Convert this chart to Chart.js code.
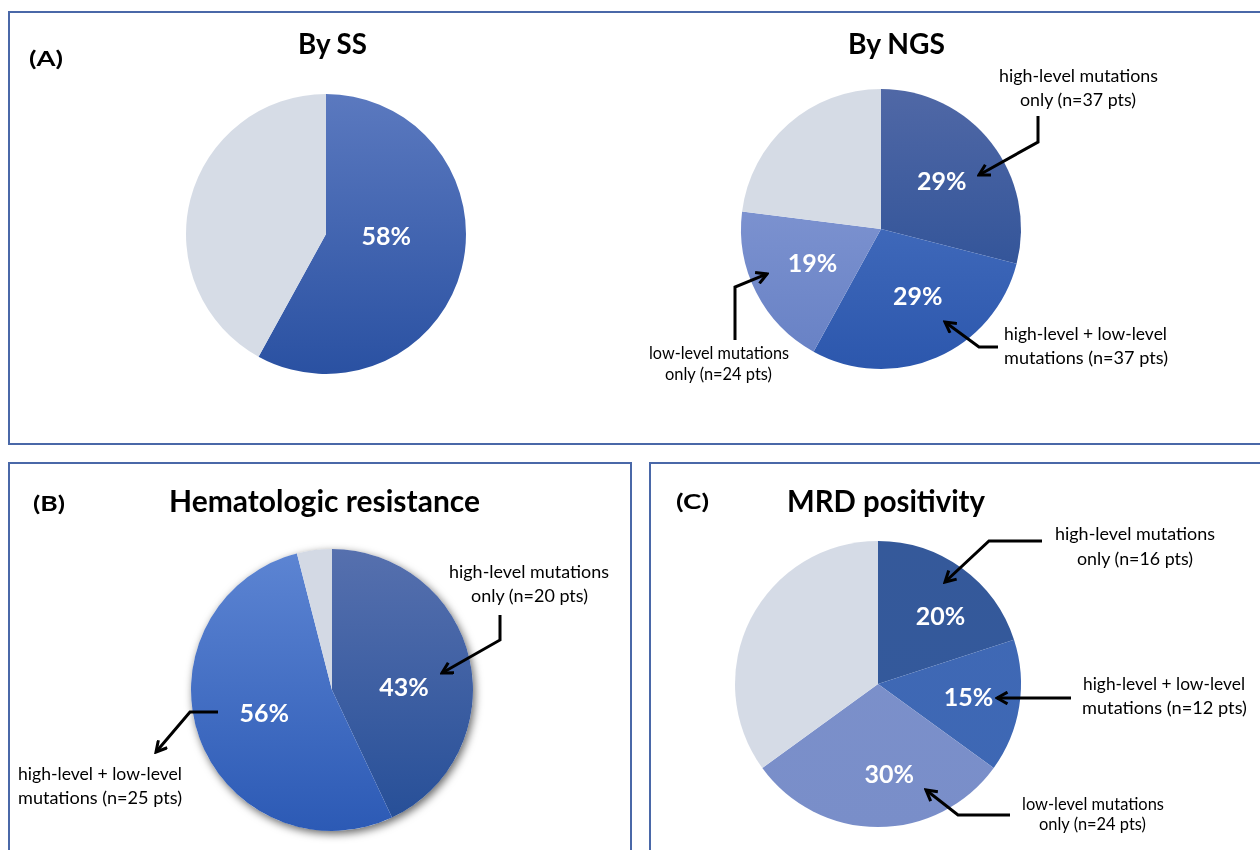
<!DOCTYPE html>
<html>
<head>
<meta charset="utf-8">
<script src="https://cdn.jsdelivr.net/npm/chart.js@4.4.1/dist/chart.umd.min.js"></script>
<style>
  body { margin: 0; width: 1260px; height: 850px; overflow: hidden; position: relative; background: #fff; font-family: Lato, sans-serif; }
  .panel { position: absolute; border: 2px solid #4a68a8; box-sizing: border-box; }
  .pie { position: absolute; width: 320px; height: 320px; }
  svg { position: absolute; left: 0; top: 0; }
  svg text { font-family: Lato, sans-serif; fill: #000; }
</style>
</head>
<body>
<div class="panel" style="left:8px;top:11px;width:1270px;height:434px"></div>
<div class="panel" style="left:8px;top:462px;width:624px;height:400px"></div>
<div class="panel" style="left:649px;top:462px;width:630px;height:400px"></div>

<div class="pie" style="left:166px;top:74px"><canvas id="ssChart" width="320" height="320"></canvas></div>
<div class="pie" style="left:721px;top:69px"><canvas id="ngsChart" width="320" height="320"></canvas></div>
<div class="pie" style="left:172px;top:530px"><canvas id="hemChart" width="320" height="320"></canvas></div>
<div class="pie" style="left:718px;top:524px"><canvas id="mrdChart" width="320" height="320"></canvas></div>

<svg width="1260" height="850">
  <defs>
    <marker id="head" viewBox="0 0 12 12" refX="10" refY="6" markerWidth="14" markerHeight="14" markerUnits="userSpaceOnUse" orient="auto">
      <path d="M1,1 L10,6 L1,11" fill="none" stroke="#000" stroke-width="2.6"/>
    </marker>
  </defs>
  <g font-weight="bold" dominant-baseline="central">
    <text x="29" y="57" font-size="21" textLength="34" lengthAdjust="spacingAndGlyphs">(A)</text>
    <text x="298" y="42" font-size="29" textLength="69" lengthAdjust="spacingAndGlyphs">By SS</text>
    <text x="848" y="42" font-size="29" textLength="97" lengthAdjust="spacingAndGlyphs">By NGS</text>
    <text x="33" y="502" font-size="21" textLength="32" lengthAdjust="spacingAndGlyphs">(B)</text>
    <text x="169" y="500" font-size="30" textLength="311" lengthAdjust="spacingAndGlyphs">Hematologic resistance</text>
    <text x="676" y="500" font-size="21" textLength="33" lengthAdjust="spacingAndGlyphs">(C)</text>
    <text x="787" y="500" font-size="30" textLength="198" lengthAdjust="spacingAndGlyphs">MRD positivity</text>
  </g>
  <g font-size="17" dominant-baseline="central">
    <text x="999" y="75" textLength="159" lengthAdjust="spacingAndGlyphs">high-level mutations</text>
    <text x="1020" y="99" textLength="116" lengthAdjust="spacingAndGlyphs">only (n=37 pts)</text>
    <text x="1004" y="333" textLength="163" lengthAdjust="spacingAndGlyphs">high-level + low-level</text>
    <text x="1004" y="357" textLength="164" lengthAdjust="spacingAndGlyphs">mutations (n=37 pts)</text>
    <text x="649" y="352" textLength="140" lengthAdjust="spacingAndGlyphs">low-level mutations</text>
    <text x="665" y="373" textLength="107" lengthAdjust="spacingAndGlyphs">only (n=24 pts)</text>

    <text x="449" y="571" textLength="160" lengthAdjust="spacingAndGlyphs">high-level mutations</text>
    <text x="471" y="595" textLength="117" lengthAdjust="spacingAndGlyphs">only (n=20 pts)</text>
    <text x="18" y="773" textLength="164" lengthAdjust="spacingAndGlyphs">high-level + low-level</text>
    <text x="18" y="797" textLength="164" lengthAdjust="spacingAndGlyphs">mutations (n=25 pts)</text>

    <text x="1055" y="533" textLength="160" lengthAdjust="spacingAndGlyphs">high-level mutations</text>
    <text x="1077" y="558" textLength="116" lengthAdjust="spacingAndGlyphs">only (n=16 pts)</text>
    <text x="1083" y="683" textLength="162" lengthAdjust="spacingAndGlyphs">high-level + low-level</text>
    <text x="1082" y="707" textLength="165" lengthAdjust="spacingAndGlyphs">mutations (n=12 pts)</text>
    <text x="1022" y="803" textLength="142" lengthAdjust="spacingAndGlyphs">low-level mutations</text>
    <text x="1039" y="823" textLength="107" lengthAdjust="spacingAndGlyphs">only (n=24 pts)</text>
  </g>
  <g fill="none" stroke="#000" stroke-width="3" marker-end="url(#head)">
    <polyline points="1038,116 1038,142 979,175"/>
    <polyline points="998,347 979,347 945,322"/>
    <polyline points="735,340 735,287 767,274"/>
    <polyline points="500,615 500,640 442,673"/>
    <polyline points="218,712 190,712 156,752"/>
    <polyline points="1042,541 989,541 945,582"/>
    <polyline points="1071,698 997,698"/>
    <polyline points="1010,815 958,815 926,790"/>
  </g>
</svg>

<script>
// values (clockwise from 12 o'clock, grey = no mutation)
const ssLabels = ['Mutations detected', 'No mutation'];
const ssValues = [58, 42];
const ssText = ['58%', ''];

const ngsLabels = ['high-level mutations only', 'high-level + low-level mutations', 'low-level mutations only', 'No mutation'];
const ngsValues = [29, 29, 19, 23];
const ngsText = ['29%', '29%', '19%', ''];

const hemLabels = ['high-level mutations only', 'high-level + low-level mutations', 'No mutation'];
const hemValues = [43, 53, 4];
const hemText = ['43%', '56%', ''];

const mrdLabels = ['high-level mutations only', 'high-level + low-level mutations', 'low-level mutations only', 'No mutation'];
const mrdValues = [20, 15, 30, 35];
const mrdText = ['20%', '15%', '30%', ''];

// vertical gradient per slice: [top, bottom]
function gradientFill(pairs) {
    return function (context) {
        const chart = context.chart;
        const area = chart.chartArea;
        if (!area) return pairs[context.dataIndex][1];
        const g = chart.ctx.createLinearGradient(0, area.top, 0, area.bottom);
        g.addColorStop(0, pairs[context.dataIndex][0]);
        g.addColorStop(1, pairs[context.dataIndex][1]);
        return g;
    };
}

const pctLabels = {
    id: 'pctLabels',
    afterDatasetsDraw(chart, args, opts) {
        const ctx = chart.ctx;
        const arcs = chart.getDatasetMeta(0).data;
        ctx.save();
        ctx.font = 'bold 25px Lato';
        ctx.fillStyle = '#ffffff';
        ctx.textAlign = 'center';
        ctx.textBaseline = 'middle';
        arcs.forEach((arc, i) => {
            const text = opts.texts[i];
            if (!text) return;
            const shift = (opts.shift ? opts.shift[i] : 0) * Math.PI / 180;
            const mid = (arc.startAngle + arc.endAngle) / 2 + shift;
            const r = arc.outerRadius * opts.radius;
            ctx.fillText(text, arc.x + Math.cos(mid) * r, arc.y + Math.sin(mid) * r);
        });
        ctx.restore();
    }
};

const pieShadow = {
    id: 'pieShadow',
    beforeDatasetsDraw(chart, args, opts) {
        if (!opts.enabled) return;
        const arc = chart.getDatasetMeta(0).data[0];
        const ctx = chart.ctx;
        ctx.save();
        ctx.shadowColor = 'rgba(0, 0, 0, 0.6)';
        ctx.shadowBlur = 9;
        ctx.shadowOffsetX = 2;
        ctx.shadowOffsetY = 3;
        ctx.fillStyle = '#ffffff';
        ctx.beginPath();
        ctx.arc(arc.x, arc.y, arc.outerRadius, 0, Math.PI * 2);
        ctx.fill();
        ctx.restore();
    }
};

function makePie(id, labels, values, colors, texts, radius, shift, pad, shadow) {
    return new Chart(document.getElementById(id), {
        type: 'pie',
        data: {
            labels: labels,
            datasets: [{
                data: values,
                backgroundColor: gradientFill(colors),
                borderWidth: 0
            }]
        },
        options: {
            responsive: false,
            animation: false,
            layout: { padding: pad },
            plugins: {
                legend: { display: false },
                tooltip: { enabled: false },
                pctLabels: { texts: texts, radius: radius, shift: shift },
                pieShadow: { enabled: shadow }
            }
        },
        plugins: [pieShadow, pctLabels]
    });
}

makePie('ssChart', ssLabels, ssValues,
    [['#5b79bf', '#2a51a2'], ['#d6dce6', '#d6dce6']],
    ssText, 0.43, [-12, 0], 20, false);

makePie('ngsChart', ngsLabels, ngsValues,
    [['#5068a6', '#234a92'], ['#5179c6', '#2c57ad'], ['#8c9fd8', '#6680c4'], ['#d5dbe5', '#d5dbe5']],
    ngsText, 0.55, [0, -5, 0, 0], 20, false);

makePie('hemChart', hemLabels, hemValues,
    [['#5670ae', '#254e97'], ['#5d85d3', '#2c5ab5'], ['#d3d9e4', '#d3d9e4']],
    hemText, 0.51, [11, 0, 0], 19, true);

makePie('mrdChart', mrdLabels, mrdValues,
    [['#35599a', '#32599c'], ['#4069b5', '#3d67b4'], ['#7d91cb', '#798ec9'], ['#d5dbe6', '#d5dbe6']],
    mrdText, 0.64, [7, 0, -7, 0], 17, false);
</script>
</body>
</html>
